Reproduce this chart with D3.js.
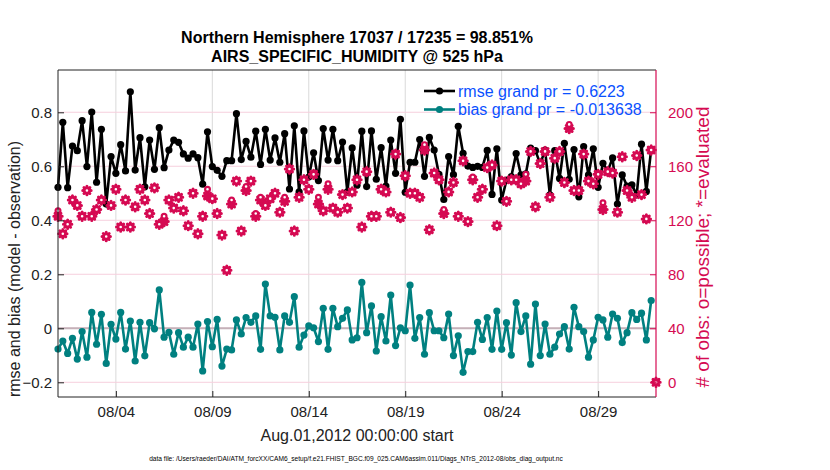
<!DOCTYPE html>
<html><head><meta charset="utf-8">
<script src="https://cdn.jsdelivr.net/npm/d3@7"></script>
<style>
body{margin:0;background:#fff}
text{font-family:"Liberation Sans",Arial,Helvetica,sans-serif}
</style>
</head><body>
<svg id="chart" width="830" height="470"></svg>
<script>
// ---------------- data ----------------
const titleLines = ["Northern Hemisphere 17037 / 17235 = 98.851%", "AIRS_SPECIFIC_HUMIDITY @ 525 hPa"];
const startDate = "2012-08-01T00:00:00Z";
const endDate = "2012-09-01T00:00:00Z";
const binHours = 6;

const rmse = [0.522,0.763,0.521,0.675,0.658,0.769,0.599,0.801,0.541,0.737,
 0.460,0.636,0.574,0.680,0.583,0.876,0.586,0.706,0.524,0.697,
 0.589,0.743,0.595,0.660,0.697,0.689,0.646,0.630,0.646,0.632,
 0.534,0.728,0.599,0.585,0.563,0.621,0.621,0.795,0.625,0.692,
 0.634,0.730,0.607,0.737,0.623,0.705,0.615,0.721,0.516,0.750,
 0.505,0.731,0.560,0.650,0.547,0.740,0.623,0.737,0.621,0.690,
 0.505,0.668,0.530,0.730,0.525,0.731,0.552,0.669,0.527,0.697,
 0.574,0.774,0.504,0.615,0.615,0.699,0.563,0.707,0.660,0.570,
 0.477,0.636,0.569,0.748,0.648,0.601,0.596,0.600,0.596,0.659,
 0.496,0.665,0.475,0.549,0.562,0.647,0.568,0.572,0.667,0.658,
 0.609,0.660,0.494,0.658,0.555,0.685,0.552,0.662,0.487,0.673,
 0.568,0.665,0.522,0.611,0.583,0.631,0.460,0.568,0.527,0.531,
 0.494,0.682,0.507,0.662];

const bias = [-0.077,-0.047,-0.093,-0.037,-0.114,-0.012,-0.107,0.059,-0.059,0.052,
 -0.130,0.015,-0.040,0.059,-0.077,0.027,-0.121,0.022,-0.102,0.021,
 -0.002,0.142,-0.033,-0.015,-0.096,-0.016,-0.070,-0.033,-0.070,0.016,
 -0.158,0.025,-0.068,0.033,-0.140,-0.077,-0.080,0.031,-0.021,0.040,
 0.022,0.046,-0.078,0.164,0.046,0.041,-0.080,0.046,0.022,0.117,
 -0.070,-0.025,0.009,0.002,-0.049,0.074,-0.078,0.074,0.006,0.037,
 0.068,-0.043,-0.035,0.170,-0.016,0.083,-0.084,0.043,-0.047,0.123,
 -0.064,0.002,-0.009,0.160,-0.037,0.040,-0.096,0.058,-0.009,-0.009,
 -0.035,0.053,-0.101,-0.028,-0.163,-0.086,-0.086,0.022,-0.041,0.040,
 -0.078,0.064,-0.078,0.021,-0.099,0.095,-0.012,0.046,-0.133,0.090,
 -0.101,0.016,-0.096,-0.070,-0.021,0.006,-0.077,0.078,0.006,-0.012,
 -0.107,-0.043,0.041,0.031,-0.033,0.053,0.037,-0.053,-0.016,0.058,
 0.033,0.056,-0.043,0.103];

const nEvaluated = [123,110,117,135,131,123,142,123,128,135,
 108,131,143,115,135,115,130,143,135,125,
 144,117,119,135,129,137,127,116,140,110,
 123,138,136,125,109,83,132,149,112,142,
 149,123,135,131,136,140,126,134,158,112,
 137,150,143,154,132,127,143,129,126,139,
 129,141,150,115,156,123,123,143,141,126,
 169,122,153,140,140,137,172,113,155,150,
 125,141,148,123,164,119,150,137,143,159,
 161,116,149,134,150,150,147,149,171,130,
 162,171,137,166,171,148,188,142,142,169,
 149,147,154,128,156,155,126,167,142,137,
 168,139,121,172,0];

const nPossible = [127,110,117,135,131,123,142,123,128,135,
 108,131,143,115,135,115,130,143,135,125,
 144,117,123,135,129,137,127,116,140,110,
 123,143,136,125,109,83,135,149,112,145,
 149,125,137,131,136,140,126,137,158,112,
 137,150,143,154,137,127,147,129,126,139,
 129,141,150,115,156,123,123,143,141,126,
 169,122,153,140,140,137,176,113,155,150,
 128,141,148,123,164,119,152,137,143,159,
 161,116,149,134,150,150,147,154,171,130,
 162,171,137,166,171,148,191,142,142,169,
 149,147,154,133,156,155,126,167,142,137,
 168,139,121,172,0];

const leftTicks = [-0.2, 0, 0.2, 0.4, 0.6, 0.8];
const rightTicks = [0, 40, 80, 120, 160, 200];
const dateTicks = ["2012-08-04","2012-08-09","2012-08-14","2012-08-19","2012-08-24","2012-08-29"];
const legendLabels = ["rmse grand pr = 0.6223", "bias grand pr = -0.013638"];
const xLabel = "Aug.01,2012 00:00:00 start";
const yLabelLeft = "rmse and bias (model - observation)";
const yLabelRight = "# of obs: o=possible; *=evaluated";
const footnote = "data file: /Users/raeder/DAI/ATM_forcXX/CAM6_setup/f.e21.FHIST_BGC.f09_025.CAM6assim.011/Diags_NTrS_2012-08/obs_diag_output.nc";

// ---------------- layout ----------------
const L = 58, R = 656, T = 70, B = 397;
const RED = "#d50a52", TEAL = "#008080", BLUE = "#0a50ff";
const svg = d3.select("#chart");

const t0 = new Date(startDate);
const timeAt = i => new Date(t0.getTime() + i * binHours * 3600e3);

const x = d3.scaleUtc().domain([new Date(startDate), new Date(endDate)]).range([L, R]);
const yL = d3.scaleLinear().domain([-0.2544, 0.9567]).range([B, T]);
const yR = d3.scaleLinear().domain([-10.9, 231.3]).range([B, T]);

// grid
const g = svg.append("g");
g.selectAll(".vg").data(dateTicks).join("line")
  .attr("x1", d => x(new Date(d + "T00:00:00Z"))).attr("x2", d => x(new Date(d + "T00:00:00Z")))
  .attr("y1", T).attr("y2", B).attr("stroke", "#d9d9d9").attr("stroke-width", 1);
g.selectAll(".hg").data(rightTicks).join("line")
  .attr("x1", L).attr("x2", R).attr("y1", d => yR(d)).attr("y2", d => yR(d))
  .attr("stroke", "#f6cfdd").attr("stroke-width", 1);
// zero line
g.append("line").attr("x1", L).attr("x2", R).attr("y1", yL(0)).attr("y2", yL(0))
  .attr("stroke", "#c4b1b8").attr("stroke-width", 2);

// series
const lineL = d3.line().x((d, i) => x(timeAt(i))).y(d => yL(d));
function series(data, color) {
  svg.append("path").attr("d", lineL(data)).attr("fill", "none")
    .attr("stroke", color).attr("stroke-width", 2.6).attr("stroke-linejoin", "round");
  svg.append("g").selectAll("circle").data(data).join("circle")
    .attr("cx", (d, i) => x(timeAt(i))).attr("cy", d => yL(d)).attr("r", 3.6).attr("fill", color);
}
series(rmse, "#000");
series(bias, TEAL);

// obs counts (right axis)
function asterisk(cx, cy, r) {
  const p = d3.path();
  const dd = r * 0.7;
  p.moveTo(cx - r, cy); p.lineTo(cx + r, cy);
  p.moveTo(cx, cy - r); p.lineTo(cx, cy + r);
  p.moveTo(cx - dd, cy - dd); p.lineTo(cx + dd, cy + dd);
  p.moveTo(cx - dd, cy + dd); p.lineTo(cx + dd, cy - dd);
  return p.toString();
}
const obsG = svg.append("g");
obsG.selectAll("path").data(nEvaluated).join("path")
  .attr("d", (d, i) => asterisk(x(timeAt(i)), yR(d), 4.2))
  .attr("stroke", RED).attr("stroke-width", 3).attr("fill", "none").attr("stroke-linecap", "round");
obsG.selectAll("circle").data(nPossible).join("circle")
  .attr("cx", (d, i) => x(timeAt(i))).attr("cy", d => yR(d)).attr("r", 2.4)
  .attr("fill", "#fff").attr("stroke", RED).attr("stroke-width", 2.2);

// axes frame
svg.append("line").attr("x1", L).attr("x2", R).attr("y1", T).attr("y2", T).attr("stroke", "#222").attr("stroke-width", 1);
svg.append("line").attr("x1", L).attr("x2", R).attr("y1", B).attr("y2", B).attr("stroke", "#222").attr("stroke-width", 1);
svg.append("line").attr("x1", L).attr("x2", L).attr("y1", T).attr("y2", B).attr("stroke", "#222").attr("stroke-width", 1);
svg.append("line").attr("x1", R).attr("x2", R).attr("y1", T).attr("y2", B).attr("stroke", RED).attr("stroke-width", 1.2);

// left axis
const axL = svg.append("g").attr("transform", `translate(${L},0)`)
  .call(d3.axisRight(yL).tickValues(leftTicks).tickSize(6).tickFormat(d3.format("")));
axL.select(".domain").remove();
axL.selectAll("line").attr("stroke", "#222");
axL.selectAll("text").attr("x", -6).attr("text-anchor", "end").attr("font-size", 15).attr("fill", "#222");

// right axis
const axR = svg.append("g").attr("transform", `translate(${R},0)`)
  .call(d3.axisLeft(yR).tickValues(rightTicks).tickSize(6));
axR.select(".domain").remove();
axR.selectAll("line").attr("stroke", RED);
axR.selectAll("text").attr("x", 12).attr("text-anchor", "start").attr("font-size", 15).attr("fill", RED);

// bottom axis
const axB = svg.append("g").attr("transform", `translate(0,${B})`)
  .call(d3.axisTop(x).tickValues(dateTicks.map(d => new Date(d + "T00:00:00Z"))).tickSize(6).tickFormat(d3.utcFormat("%m/%d")));
axB.select(".domain").remove();
axB.selectAll("line").attr("stroke", "#222");
axB.selectAll("text").attr("y", 20).attr("dy", 0).attr("font-size", 15).attr("fill", "#222");

// titles
svg.selectAll(".title").data(titleLines).join("text")
  .attr("x", 357).attr("y", (d, i) => 43 + i * 19).attr("text-anchor", "middle")
  .attr("font-size", 16).attr("font-weight", "bold").attr("fill", "#000").text(d => d);

svg.append("text").attr("x", 357).attr("y", 441).attr("text-anchor", "middle")
  .attr("font-size", 16).attr("fill", "#222").text(xLabel);
svg.append("text").attr("transform", "translate(20,269) rotate(-90)").attr("text-anchor", "middle")
  .attr("font-size", 16).attr("fill", "#222").text(yLabelLeft);
svg.append("text").attr("transform", "translate(709,247) rotate(-90)").attr("text-anchor", "middle")
  .attr("font-size", 19).attr("fill", RED).text(yLabelRight);
svg.append("text").attr("x", 356).attr("y", 461).attr("text-anchor", "middle")
  .attr("font-size", 6.6).attr("fill", "#000").text(footnote);

// legend
const legColors = ["#000", TEAL];
const leg = svg.append("g");
legendLabels.forEach((lab, i) => {
  const ly = 91 + i * 18.5;
  leg.append("line").attr("x1", 424).attr("x2", 455).attr("y1", ly).attr("y2", ly)
    .attr("stroke", legColors[i]).attr("stroke-width", 2.6);
  leg.append("circle").attr("cx", 439.5).attr("cy", ly).attr("r", 3.6).attr("fill", legColors[i]);
  leg.append("text").attr("x", 458).attr("y", ly + 5.5).attr("font-size", 16)
    .attr("fill", BLUE).text(lab);
});
</script>
</body></html>
